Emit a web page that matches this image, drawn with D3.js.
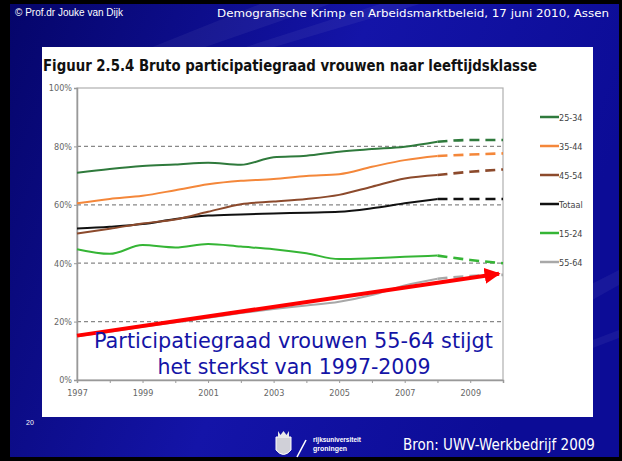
<!DOCTYPE html>
<html>
<head>
<meta charset="utf-8">
<script src="https://cdn.jsdelivr.net/npm/d3@7/dist/d3.min.js"></script>
<style>
  body { margin: 0; background: #000; }
  svg { display: block; }
</style>
</head>
<body>
<svg id="slide" width="622" height="461"></svg>
<script>
// observed years (solid) and forecast years (dashed)
var years = [1997, 1998, 1999, 2000, 2001, 2002, 2003, 2004, 2005, 2006, 2007, 2008];
var forecastYears = [2008, 2009, 2010];

var labels = ["25-34", "35-44", "45-54", "Totaal", "15-24", "55-64"];
var colors = ["#2f7a3c", "#f4873a", "#8c4a2c", "#111111", "#35b535", "#a8a8a8"];

// participation rates (%)
var v2534 = [71.0, 72.3, 73.3, 73.8, 74.4, 73.7, 76.3, 76.8, 78.2, 79.1, 79.9, 81.6];
var v3544 = [60.5, 62.0, 63.1, 65.0, 67.0, 68.2, 68.8, 69.9, 70.5, 73.0, 75.3, 76.7];
var v4554 = [50.2, 51.8, 53.6, 55.0, 57.6, 60.2, 61.1, 62.0, 63.4, 66.2, 69.0, 70.2];
var vTot  = [51.9, 52.5, 53.4, 55.1, 56.3, 56.7, 57.0, 57.3, 57.6, 58.8, 60.5, 62.0];
var v1524 = [44.8, 43.2, 46.2, 45.4, 46.6, 45.7, 44.8, 43.4, 41.4, 41.7, 42.2, 42.6];
var v5564 = [15.0, 16.5, 18.2, 19.8, 21.3, 22.9, 24.3, 25.5, 26.8, 29.1, 32.4, 34.7];

// forecasts 2008-2010
var f2534 = [81.6, 82.2, 82.2];
var f3544 = [76.7, 77.2, 77.6];
var f4554 = [70.2, 71.3, 72.1];
var fTot  = [62.0, 62.0, 62.0];
var f1524 = [42.6, 41.1, 40.0];
var f5564 = [34.7, 35.6, 36.0];

var yTicks = [0, 20, 40, 60, 80, 100];
var xLabelYears = [1997, 1999, 2001, 2003, 2005, 2007, 2009];
var allYears = [1997, 1998, 1999, 2000, 2001, 2002, 2003, 2004, 2005, 2006, 2007, 2008, 2009, 2010];

// annotation arrow (year, %)
var arrowFrom = [1997, 15.2];
var arrowTo = [2010, 36.4];

var observed = [v2534, v3544, v4554, vTot, v1524, v5564];
var forecast = [f2534, f3544, f4554, fTot, f1524, f5564];

var svg = d3.select("#slide");

// ---- slide background ----
var defs = svg.append("defs");
var grad = defs.append("linearGradient").attr("id", "bg")
  .attr("x1", "0").attr("y1", "0").attr("x2", "1").attr("y2", "0.3");
grad.append("stop").attr("offset", "0").attr("stop-color", "#05056a");
grad.append("stop").attr("offset", "0.55").attr("stop-color", "#1414a8");
grad.append("stop").attr("offset", "1").attr("stop-color", "#0c0c96");

svg.append("rect").attr("width", 622).attr("height", 461).attr("fill", "#000");
svg.append("rect").attr("x", 10).attr("y", 4).attr("width", 609).attr("height", 453)
  .attr("fill", "url(#bg)");

// light diagonal streaks
var streaks = [
  [[260, 4], [330, 4], [110, 80], [70, 80]],
  [[380, 4], [420, 4], [230, 60], [205, 60]],
  [[560, 300], [619, 270], [619, 285], [560, 318]],
  [[540, 360], [619, 330], [619, 338], [540, 368]]
];
svg.selectAll("polygon.streak").data(streaks).enter().append("polygon")
  .attr("class", "streak")
  .attr("points", function(d) { return d.map(function(p) { return p.join(","); }).join(" "); })
  .attr("fill", "#ffffff").attr("opacity", 0.05);

// header texts
svg.append("text").attr("x", 15).attr("y", 16)
  .attr("font-family", "Liberation Sans, Arial, sans-serif").attr("font-size", 10)
  .attr("fill", "#fff").text("\u00a9 Prof.dr Jouke van Dijk");
svg.append("text").attr("x", 609).attr("y", 17).attr("text-anchor", "end")
  .attr("font-family", "DejaVu Sans Condensed, DejaVu Sans, sans-serif").attr("font-size", 11)
  .attr("textLength", 392).attr("lengthAdjust", "spacingAndGlyphs")
  .attr("fill", "#fff").text("Demografische Krimp en Arbeidsmarktbeleid, 17 juni 2010, Assen");

// white panel
svg.append("rect").attr("x", 42).attr("y", 47).attr("width", 551).attr("height", 370)
  .attr("fill", "#fff");

svg.append("text").attr("x", 43).attr("y", 71)
  .attr("font-family", "DejaVu Sans Condensed, DejaVu Sans, sans-serif")
  .attr("font-weight", "bold").attr("font-size", 15)
  .attr("textLength", 494).attr("lengthAdjust", "spacingAndGlyphs")
  .attr("fill", "#111").text("Figuur 2.5.4 Bruto participatiegraad vrouwen naar leeftijdsklasse");

// ---- chart ----
var x = d3.scaleLinear().domain([1997, 2010]).range([77, 503]);
var y = d3.scaleLinear().domain([0, 100]).range([380, 88]);
var smallFont = "Liberation Sans Narrow, DejaVu Sans Condensed, sans-serif";

// frame
svg.append("rect").attr("x", x(1997)).attr("y", y(100))
  .attr("width", x(2010) - x(1997)).attr("height", y(0) - y(100))
  .attr("fill", "none").attr("stroke", "#b0b0b0").attr("stroke-width", 1.2);

// gridlines
svg.selectAll("line.grid").data(yTicks.filter(function(t) { return t > 0 && t < 100; }))
  .enter().append("line").attr("class", "grid")
  .attr("x1", x(1997)).attr("x2", x(2010))
  .attr("y1", function(d) { return y(d); }).attr("y2", function(d) { return y(d); })
  .attr("stroke", "#888").attr("stroke-width", 1.3).attr("stroke-dasharray", "4,3");

// y axis
var yAxis = d3.axisLeft(y).tickValues(yTicks).tickSize(3)
  .tickFormat(function(d) { return d + "%"; });
var gY = svg.append("g").attr("transform", "translate(" + x(1997) + ",0)").call(yAxis);
gY.select(".domain").attr("stroke", "#999").attr("stroke-width", 1.5);
gY.selectAll(".tick line").attr("stroke", "#999");
gY.selectAll("text").attr("font-family", smallFont).attr("font-size", 9)
  .attr("fill", "#666").attr("x", -5);

// x axis
var xAxis = d3.axisBottom(x).tickValues(allYears).tickSize(3)
  .tickFormat(function(d) { return xLabelYears.indexOf(d) >= 0 ? d : ""; });
var gX = svg.append("g").attr("transform", "translate(0," + y(0) + ")").call(xAxis);
gX.select(".domain").attr("stroke", "#999").attr("stroke-width", 1.5);
gX.selectAll(".tick line").attr("stroke", "#999");
gX.selectAll("text").attr("font-family", smallFont).attr("font-size", 9)
  .attr("fill", "#666").attr("y", 10);

// series lines
var line = d3.line()
  .x(function(d) { return x(d[0]); })
  .y(function(d) { return y(d[1]); })
  .curve(d3.curveMonotoneX);

// draw in reverse so 25-34 is on top
for (var i = labels.length - 1; i >= 0; i--) {
  var obs = years.map(function(yr, j) { return [yr, observed[i][j]]; });
  var fc = forecastYears.map(function(yr, j) { return [yr, forecast[i][j]]; });
  svg.append("path").datum(obs).attr("d", line)
    .attr("fill", "none").attr("stroke", colors[i]).attr("stroke-width", 2);
  svg.append("path").datum(fc).attr("d", line)
    .attr("fill", "none").attr("stroke", colors[i]).attr("stroke-width", 2.6)
    .attr("stroke-dasharray", "10,6");
}

// legend
var legend = svg.selectAll("g.legend").data(labels).enter().append("g")
  .attr("class", "legend")
  .attr("transform", function(d, i) { return "translate(540," + (117 + i * 29) + ")"; });
legend.append("line").attr("x1", 0).attr("x2", 19)
  .attr("stroke", function(d, i) { return colors[i]; }).attr("stroke-width", 2.5);
legend.append("text").attr("x", 19).attr("y", 3.5)
  .attr("font-family", smallFont).attr("font-size", 9).attr("fill", "#444")
  .text(function(d) { return d; });

// red arrow
defs.append("marker").attr("id", "head").attr("viewBox", "0 0 10 10")
  .attr("refX", 9).attr("refY", 5).attr("markerWidth", 4).attr("markerHeight", 4.5)
  .attr("orient", "auto").attr("markerUnits", "strokeWidth")
  .append("path").attr("d", "M0,0 L10,5 L0,10 Z").attr("fill", "#ff0000");
svg.append("line")
  .attr("x1", x(arrowFrom[0])).attr("y1", y(arrowFrom[1]))
  .attr("x2", x(arrowTo[0]) - 4).attr("y2", y(arrowTo[1]))
  .attr("stroke", "#ff0000").attr("stroke-width", 4)
  .attr("marker-end", "url(#head)");

// annotation
svg.append("text").attr("x", 293.5).attr("y", 348).attr("text-anchor", "middle")
  .attr("font-family", "DejaVu Sans, sans-serif").attr("font-size", 21)
  .attr("textLength", 399).attr("lengthAdjust", "spacingAndGlyphs")
  .attr("fill", "#1414a6").text("Participatiegraad vrouwen 55-64 stijgt");
svg.append("text").attr("x", 294).attr("y", 374).attr("text-anchor", "middle")
  .attr("font-family", "DejaVu Sans, sans-serif").attr("font-size", 21)
  .attr("textLength", 273).attr("lengthAdjust", "spacingAndGlyphs")
  .attr("fill", "#1414a6").text("het sterkst van 1997-2009");

// ---- footer ----
svg.append("text").attr("x", 26).attr("y", 425)
  .attr("font-family", "Liberation Sans, sans-serif").attr("font-size", 7)
  .attr("fill", "#fff").text("20");

// university logo (simplified)
var logo = svg.append("g").attr("transform", "translate(275,431)");
logo.append("path").attr("d", "M1,6 L16,6 L16,19 Q8.5,28 1,19 Z")
  .attr("fill", "#d0d0d8").attr("stroke", "#fff").attr("stroke-width", 1);
logo.append("path").attr("d", "M3,0 L5.5,4 L8.5,0 L11.5,4 L14,0 L14,6 L3,6 Z").attr("fill", "#e8e8e8");
logo.append("line").attr("x1", 22).attr("y1", 26).attr("x2", 31).attr("y2", 9)
  .attr("stroke", "#fff").attr("stroke-width", 1.6);
logo.append("text").attr("x", 38).attr("y", 11)
  .attr("font-family", "Liberation Sans, sans-serif").attr("font-weight", "bold")
  .attr("font-size", 7).attr("textLength", 48).attr("lengthAdjust", "spacingAndGlyphs")
  .attr("fill", "#fff").text("rijksuniversiteit");
logo.append("text").attr("x", 38).attr("y", 20)
  .attr("font-family", "Liberation Sans, sans-serif").attr("font-weight", "bold")
  .attr("font-size", 7).attr("textLength", 34).attr("lengthAdjust", "spacingAndGlyphs")
  .attr("fill", "#fff").text("groningen");

svg.append("text").attr("x", 403).attr("y", 450)
  .attr("font-family", "DejaVu Sans Condensed, DejaVu Sans, sans-serif").attr("font-size", 15)
  .attr("fill", "#fff").text("Bron: UWV-Werkbedrijf 2009");
</script>
</body>
</html>
